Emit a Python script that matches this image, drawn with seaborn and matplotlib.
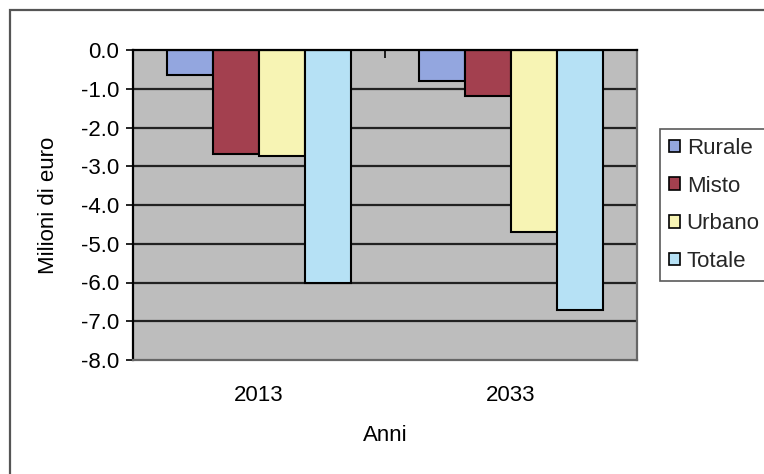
import matplotlib
matplotlib.use("Agg")
import matplotlib.pyplot as plt
import matplotlib.patches as mpatches
import seaborn as sns
import pandas as pd

# Differenza di costo per tipo di area (milioni di euro)
anni = ["2013", "2033"]
aree = ["Rurale", "Misto", "Urbano", "Totale"]
rurale = [-0.65, -0.80]
misto = [-2.68, -1.19]
urbano = [-2.73, -4.69]
totale = [-6.02, -6.70]
yticks = [0.0, -1.0, -2.0, -3.0, -4.0, -5.0, -6.0, -7.0, -8.0]

colori = ["#93a6df", "#a3404f", "#f7f4b4", "#b6e1f5"]

rows = []
for serie, valori in zip(aree, [rurale, misto, urbano, totale]):
    for anno, v in zip(anni, valori):
        rows.append({"Anno": anno, "Area": serie, "Valore": v})
df = pd.DataFrame(rows)

sns.set_theme(style="white")
plt.rcParams["font.family"] = ["Liberation Sans", "DejaVu Sans"]

W, H = 764, 474
FS = 16
fig = plt.figure(figsize=(W / 100, H / 100), dpi=100)
fig.patch.set_facecolor("white")
ax = fig.add_axes([133 / W, 1 - 360 / H, (637 - 133) / W, (360 - 50) / H])
ax.set_facecolor("#bdbdbd")

sns.barplot(data=df, x="Anno", y="Valore", hue="Area", order=anni,
            hue_order=aree, palette=colori, width=0.73, gap=0,
            edgecolor="black", linewidth=1.5, saturation=1, ax=ax,
            legend=False, zorder=3)

ax.set_ylim(-8.0, 0.0)
ax.set_xlim(-0.5, 1.5)
ax.set_yticks(yticks)
ax.set_yticklabels([f"{t:.1f}" for t in yticks], fontsize=FS, color="black")
ax.tick_params(axis="y", direction="out", length=5, width=1.2, pad=5,
               left=True, color="black")
ax.tick_params(axis="x", length=0, pad=18, labelsize=FS, labelcolor="black")

for t in yticks[1:-1]:
    ax.axhline(t, color="#222222", lw=1.6, zorder=1)

# Category separator tick on the zero line
ax.set_xticks([0.5], minor=True)
ax.tick_params(axis="x", which="minor", top=True, bottom=False,
               direction="in", length=6, width=1.2, color="black")

for side in ["left", "top"]:
    ax.spines[side].set_color("black")
    ax.spines[side].set_linewidth(1.6)
for side in ["right", "bottom"]:
    ax.spines[side].set_color("#666666")
    ax.spines[side].set_linewidth(1.6)
ax.spines["top"].set_zorder(5)

ax.set_xlabel("Anni", fontsize=FS, labelpad=14, color="black")
ax.set_ylabel("Milioni di euro", fontsize=FS, labelpad=16, color="black")

# Legend
handles = [mpatches.Patch(facecolor=c, edgecolor="black", linewidth=1.2, label=a)
           for c, a in zip(colori, aree)]
leg = fig.legend(handles=handles, loc="upper left",
                 bbox_to_anchor=(660 / W, 1 - 129 / H), fontsize=FS,
                 frameon=True, fancybox=False, handlelength=0.5,
                 handleheight=0.5, handletextpad=0.3, labelspacing=0.75,
                 borderpad=0.4, borderaxespad=0)
leg.get_frame().set_edgecolor("#303030")
leg.get_frame().set_linewidth(1.2)

# Outer chart frame
fig.add_artist(mpatches.Rectangle((9.5 / W, -0.05), 1.0, 1 - 10 / H + 0.05,
                                  transform=fig.transFigure, fill=False,
                                  edgecolor="#555555", linewidth=1.6,
                                  clip_on=False))

fig.savefig("out.png", dpi=100)
